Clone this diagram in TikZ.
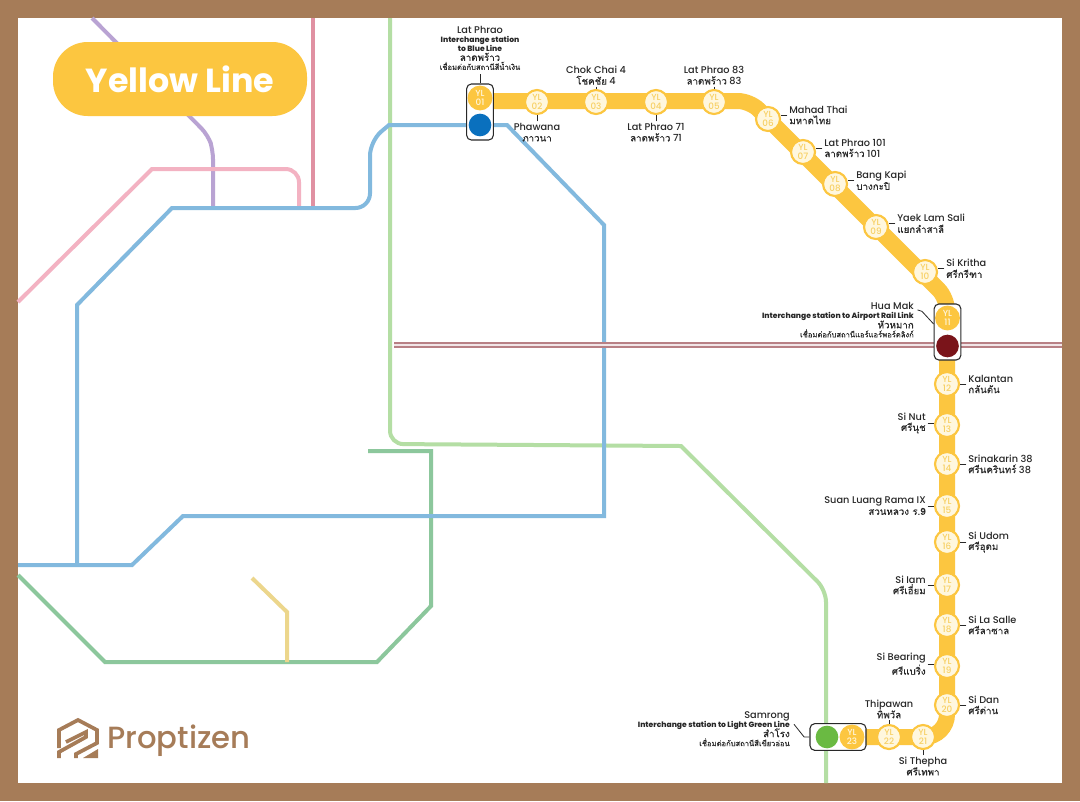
\documentclass[tikz,border=0pt]{standalone}
\usepackage{fontspec}
\setmainfont{Poppins Medium}
\newfontfamily\titlefont{Poppins}
\newfontfamily\thaifont[Script=Thai,FakeBold=0.25]{Loma}
\usetikzlibrary{positioning, calc}
\definecolor{framebrown}{RGB}{166, 124, 88}
\definecolor{lineyellow}{RGB}{252, 198, 64}
\definecolor{ringcream}{RGB}{255, 247, 222}
\definecolor{textyellow}{RGB}{247, 208, 100}
\definecolor{lineblue}{RGB}{130, 185, 222}
\definecolor{linepurple}{RGB}{185, 163, 211}
\definecolor{linerose}{RGB}{224, 145, 162}
\definecolor{linepink}{RGB}{243, 178, 194}
\definecolor{linelime}{RGB}{180, 222, 164}
\definecolor{linegreen}{RGB}{140, 199, 156}
\definecolor{linesand}{RGB}{236, 214, 140}
\definecolor{linerail}{RGB}{184, 128, 133}
\definecolor{stopblue}{RGB}{10, 112, 190}
\definecolor{stopred}{RGB}{122, 20, 26}
\definecolor{stopgreen}{RGB}{106, 186, 66}
\definecolor{inkdark}{RGB}{40, 40, 40}

\begin{document}
\begin{tikzpicture}[
        x=0.75pt, y=-0.75pt,
        mapline/.style={line width=3pt},
        yellowline/.style={line width=12pt, lineyellow},
        stn/.style={circle, draw=lineyellow, line width=1.6pt, fill=ringcream,
            minimum size=18pt, inner sep=0pt, align=center, text=textyellow,
            font=\fontsize{6.6}{6.4}\selectfont},
        stnx/.style={stn, fill=lineyellow, text=ringcream, minimum size=17pt},
        stop/.style={circle, minimum size=17pt, inner sep=0pt},
        xbox/.style={draw=inkdark, fill=white, line width=0.8pt, rounded corners=3.5pt},
        lbl/.style={inner sep=0pt, text=inkdark, font=\fontsize{7.3}{8.2}\selectfont},
        lbr/.style={lbl, align=right},
        lbe/.style={lbl, align=left},
        lbc/.style={lbl, align=center},
        tick/.style={draw=inkdark, line width=0.6pt, shorten <=1.2pt}
    ]
    \newcommand{\smalltxt}{\fontsize{5.7}{7}\selectfont\bfseries}
    \newcommand{\smallthai}{\fontsize{5.7}{7}\selectfont\thaifont}

    \useasboundingbox (0,0) rectangle (1080,801);
    \fill[framebrown] (0,0) rectangle (1080,801);
    \fill[white] (18,18) rectangle (1062,783);

    \draw[mapline, linepurple, rounded corners=7pt] (92,18) -- (208,135) -- (213,150) -- (213,208);
    \draw[mapline, linepink] (18,302) -- (152,169) [rounded corners=10pt] -- (299,169) -- (299,208);
    \draw[mapline, linerose] (313,18) -- (313,208);
    \draw[mapline, linelime, rounded corners=10pt] (390,18) -- (390,444) [sharp corners] -- (681,446)
        [rounded corners=9pt] -- (826,590) -- (826,783);
    \draw[mapline, linegreen] (368,451) -- (431,451) -- (431,606) -- (377,662) -- (105,662) -- (18,575);
    \draw[mapline, linesand] (252,578) -- (287,612) -- (287,662);
    \draw[mapline, lineblue] (77,565) -- (77,305) -- (172,208) [rounded corners=11pt] -- (370,208)
        -- (370,141) [sharp corners] -- (389,125) -- (507,125) -- (604,225) -- (604,516) -- (183,516)
        -- (132,565) -- (18,565);
    \draw[line width=4.5pt, linerail] (394,345) -- (1062,345);
    \draw[line width=1.5pt, white!80!linerail] (394,345) -- (1062,345);

    \draw[yellowline] (490,101) [rounded corners=9pt] -- (750,101) -- (947,298)
        [rounded corners=17pt] -- (947,737) -- (860,737);

    \node[xbox, minimum width=20pt, minimum height=42pt] (x01) at (480,112) {};
    \node[xbox, minimum width=20pt, minimum height=42pt] (x11) at (947.5,332) {};
    \node[xbox, minimum width=42pt, minimum height=20pt] (x23) at (838,737) {};

    \node[stnx] (yl01) at (480,98) {YL\\01};
    \node[stop, fill=stopblue] (blue) at (480,125) {};
    \node[stn] (yl02) at (537,102) {YL\\02};
    \node[stn] (yl03) at (596,102) {YL\\03};
    \node[stn] (yl04) at (656,102) {YL\\04};
    \node[stn] (yl05) at (714,102) {YL\\05};
    \node[stn] (yl06) at (768,119) {YL\\06};
    \node[stn] (yl07) at (803,152) {YL\\07};
    \node[stn] (yl08) at (835,184) {YL\\08};
    \node[stn] (yl09) at (876,227) {YL\\09};
    \node[stn] (yl10) at (925,272) {YL\\10};
    \node[stnx] (yl11) at (947.5,318) {YL\\11};
    \node[stop, fill=stopred] (red) at (947.5,346) {};
    \node[stn] (yl12) at (947,384) {YL\\12};
    \node[stn] (yl13) at (947,425) {YL\\13};
    \node[stn] (yl14) at (947,464) {YL\\14};
    \node[stn] (yl15) at (947,506) {YL\\15};
    \node[stn] (yl16) at (947,542) {YL\\16};
    \node[stn] (yl17) at (947,585) {YL\\17};
    \node[stn] (yl18) at (947,625) {YL\\18};
    \node[stn] (yl19) at (947,666) {YL\\19};
    \node[stn] (yl20) at (947,705) {YL\\20};
    \node[stn] (yl21) at (923,737) {YL\\21};
    \node[stn] (yl22) at (889,737) {YL\\22};
    \node[stnx] (yl23) at (852,737) {YL\\23};
    \node[stop, fill=stopgreen] (green) at (827,737) {};

    \node[lbc, above=10pt of x01] (lb01) {Lat Phrao\\[-1.5pt]
        {\smalltxt Interchange station}\\[-1.5pt]
        {\smalltxt to Blue Line}\\[-1pt]
        {\thaifont ลาดพร้าว}\\[-1.5pt]
        {\smallthai เชื่อมต่อกับสถานีสีน้ำเงิน}};
    \draw[tick, shorten <=3pt] (lb01) -- (x01);

    \node[lbc, below=6pt of yl02] (lb02) {Phawana\\{\thaifont ภาวนา}};
    \draw[tick] (lb02) -- (yl02);
    \node[lbc, above=3pt of yl03] (lb03) {Chok Chai 4\\{\thaifont โชคชัย} 4};
    \draw[tick] (lb03) -- (yl03);
    \node[lbc, below=6pt of yl04] (lb04) {Lat Phrao 71\\{\thaifont ลาดพร้าว} 71};
    \draw[tick] (lb04) -- (yl04);
    \node[lbc, above=3pt of yl05] (lb05) {Lat Phrao 83\\{\thaifont ลาดพร้าว} 83};
    \draw[tick] (lb05) -- (yl05);

    \node[lbe, right=6pt of yl06, yshift=3pt] (lb06) {Mahad Thai\\{\thaifont มหาดไทย}};
    \draw[tick] (lb06.west) -- (lb06.west -| yl06.east);
    \node[lbe, right=6pt of yl07, yshift=3pt] (lb07) {Lat Phrao 101\\{\thaifont ลาดพร้าว} 101};
    \draw[tick] (lb07.west) -- (lb07.west -| yl07.east);
    \node[lbe, right=6pt of yl08, yshift=2.5pt] (lb08) {Bang Kapi\\{\thaifont บางกะปิ}};
    \draw[tick] (lb08.west) -- (lb08.west -| yl08.east);
    \node[lbe, right=6pt of yl09, yshift=2.5pt] (lb09) {Yaek Lam Sali\\{\thaifont แยกลำสาลี}};
    \draw[tick] (lb09.west) -- (lb09.west -| yl09.east);
    \node[lbe, right=6pt of yl10, yshift=2.5pt] (lb10) {Si Kritha\\{\thaifont ศรีกรีฑา}};
    \draw[tick] (lb10.west) -- (lb10.west -| yl10.east);

    \node[lbr, anchor=east] (lb11) at (914,320) {Hua Mak\\[-1.5pt]
        {\smalltxt Interchange station to Airport Rail Link}\\[-1pt]
        {\thaifont หัวหมาก}\\[-1.5pt]
        {\smallthai เชื่อมต่อกับสถานีแอร์แอร์พอร์ตลิงก์}};
    \draw[tick] ([shift={(2,7)}]lb11.north east) -- ++(6,2) -- ([yshift=6pt]x11.west);

    \node[lbe, right=6pt of yl12] (lb12) {Kalantan\\{\thaifont กลันตัน}};
    \draw[tick] (lb12.west) -- (lb12.west -| yl12.east);
    \node[lbr, left=6pt of yl13, yshift=1.5pt] (lb13) {Si Nut\\{\thaifont ศรีนุช}};
    \draw[tick] (lb13.east) -- (lb13.east -| yl13.west);
    \node[lbe, right=6pt of yl14] (lb14) {Srinakarin 38\\{\thaifont ศรีนครินทร์} 38};
    \draw[tick] (lb14.west) -- (lb14.west -| yl14.east);
    \node[lbr, left=6pt of yl15] (lb15) {Suan Luang Rama IX\\{\thaifont สวนหลวง ร.9}};
    \draw[tick] (lb15.east) -- (lb15.east -| yl15.west);
    \node[lbe, right=6pt of yl16] (lb16) {Si Udom\\{\thaifont ศรีอุดม}};
    \draw[tick] (lb16.west) -- (lb16.west -| yl16.east);
    \node[lbr, left=6pt of yl17] (lb17) {Si Iam\\{\thaifont ศรีเอี่ยม}};
    \draw[tick] (lb17.east) -- (lb17.east -| yl17.west);
    \node[lbe, right=6pt of yl18] (lb18) {Si La Salle\\{\thaifont ศรีลาซาล}};
    \draw[tick] (lb18.west) -- (lb18.west -| yl18.east);
    \node[lbr, left=6pt of yl19, yshift=1.5pt] (lb19) {Si Bearing\\{\thaifont ศรีแบริ่ง}};
    \draw[tick] (lb19.east) -- (lb19.east -| yl19.west);
    \node[lbe, right=6pt of yl20] (lb20) {Si Dan\\{\thaifont ศรีด่าน}};
    \draw[tick] (lb20.west) -- (lb20.west -| yl20.east);

    \node[lbc, below=5pt of yl21] (lb21) {Si Thepha\\{\thaifont ศรีเทพา}};
    \draw[tick] (lb21) -- (yl21);
    \node[lbc, above=4pt of yl22] (lb22) {Thipawan\\{\thaifont ทิพวัล}};
    \draw[tick] (lb22) -- (yl22);

    \node[lbr, anchor=east] (lb23) at (790,729) {Samrong\\[-1.5pt]
        {\smalltxt Interchange station to Light Green Line}\\[-1pt]
        {\thaifont สำโรง}\\[-1.5pt]
        {\smallthai เชื่อมต่อกับสถานีสีเขียวอ่อน}};
    \draw[tick] ([shift={(3,-6)}]lb23.east) -- ([xshift=-4pt]x23.west) -- (x23.west);

    \node[fill=lineyellow, rounded corners=26pt, minimum width=190.5pt, minimum height=55.5pt,
          text=white, font=\titlefont\fontsize{25}{25}\selectfont\bfseries] (title) at (180,79) {Yellow Line};

    \draw[line width=2.8pt, framebrown] (59,748) -- (59,730) -- (78,720) -- (97,730)
        -- (97,743) -- (76,754) -- (76,758);
    \draw[line width=2.8pt, framebrown] (59,758) -- (59,752) -- (86,737) -- (86,732) -- (66,742);
    \fill[framebrown] (83,758) -- (98,749) -- (98,758) -- cycle;
    \node[anchor=west, inner sep=0pt, text=framebrown,
          font=\fontsize{23}{23}\selectfont] (brand) at (107,741) {Proptizen};

    \end{tikzpicture}
\end{document}
